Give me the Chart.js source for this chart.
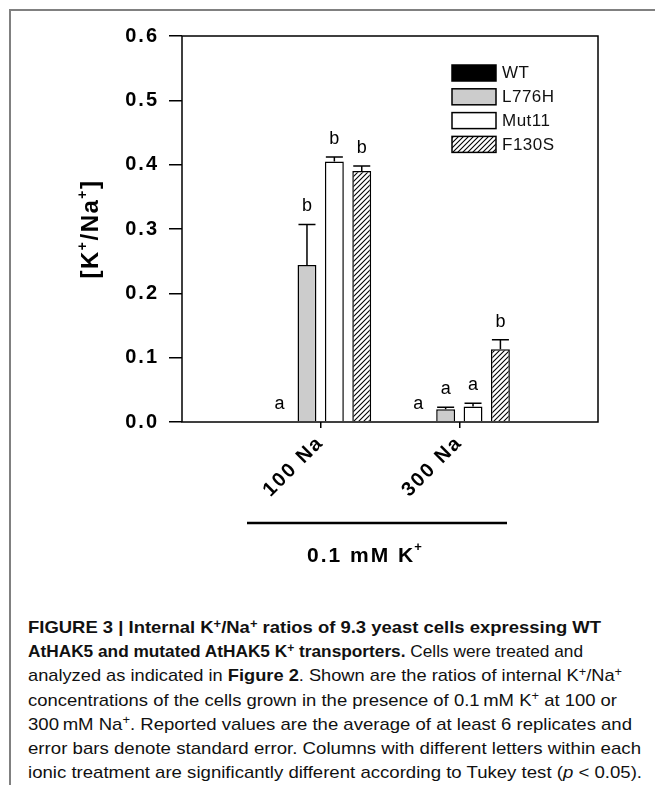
<!DOCTYPE html>
<html><head><meta charset="utf-8">
<script src="https://cdn.jsdelivr.net/npm/chart.js@4"></script>
<style>
body{margin:0;background:#fff;width:655px;height:785px;overflow:hidden;position:relative;font-family:'Liberation Sans',Arial,sans-serif}
#wrap{position:absolute;left:0;top:0;width:655px;height:600px}
#frameL{position:absolute;left:9px;top:9px;width:2px;height:776px;background:#808080}
#frameT{position:absolute;left:9px;top:9px;width:646px;height:2px;background:#808080}
#cap{position:absolute;left:28px;top:600px;font-family:'Liberation Sans Narrow','Liberation Sans',sans-serif;font-size:17px;color:#111}
.ln{position:absolute;left:0;white-space:nowrap;transform-origin:0 0;line-height:20px}
sup{font-size:70%;vertical-align:baseline;position:relative;top:-0.45em}
</style>
</head><body>
<div id="frameL"></div><div id="frameT"></div>
<div id="wrap"><canvas id="c" width="655" height="600"></canvas></div>
<div id="cap">
<div class="ln" data-w="573"><b>FIGURE 3 | Internal K<sup>+</sup>/Na<sup>+</sup> ratios of 9.3 yeast cells expressing WT</b></div>
<div class="ln" data-w="555"><b>AtHAK5 and mutated AtHAK5 K<sup>+</sup> transporters.</b> Cells were treated and</div>
<div class="ln" data-w="594">analyzed as indicated in <b>Figure 2</b>. Shown are the ratios of internal K<sup>+</sup>/Na<sup>+</sup></div>
<div class="ln" data-w="589">concentrations of the cells grown in the presence of 0.1&#8201;mM K<sup>+</sup> at 100 or</div>
<div class="ln" data-w="604">300&#8201;mM Na<sup>+</sup>. Reported values are the average of at least 6 replicates and</div>
<div class="ln" data-w="613">error bars denote standard error. Columns with different letters within each</div>
<div class="ln" data-w="614">ionic treatment are significantly different according to Tukey test (<i>p</i> &lt; 0.05).</div>
</div>
<script>
// ---- data ----
const categories = ['100 Na', '300 Na'];
const seriesNames = ['WT', 'L776H', 'Mut11', 'F130S'];
const wtValues    = [0.000, 0.000];
const l776hValues = [0.244, 0.020];
const mut11Values = [0.405, 0.024];
const f130sValues = [0.390, 0.113];
const wtErr    = [0.000, 0.000];
const l776hErr = [0.063, 0.003];
const mut11Err = [0.007, 0.005];
const f130sErr = [0.008, 0.015];
const wtLetters    = ['a', 'a'];
const l776hLetters = ['b', 'a'];
const mut11Letters = ['b', 'a'];
const f130sLetters = ['b', 'b'];
const yTickValues = [0, 0.1, 0.2, 0.3, 0.4, 0.5, 0.6];
const yTickLabels = ['0.0', '0.1', '0.2', '0.3', '0.4', '0.5', '0.6'];

// caption line fitting
document.querySelectorAll('#cap .ln').forEach((el, k) => {
  el.style.top = (18 + 24.2 * k) + 'px';
  const w = el.getBoundingClientRect().width;
  el.style.transform = 'scaleX(' + (parseFloat(el.dataset.w) / w) + ')';
});

const canvas = document.getElementById('c');
const ctx0 = canvas.getContext('2d');
const tile = document.createElement('canvas');
tile.width = tile.height = 5;
(function () {
  const g = tile.getContext('2d');
  g.fillStyle = '#fff'; g.fillRect(0, 0, 5, 5);
  g.strokeStyle = '#000'; g.lineWidth = 1.1;
  g.beginPath();
  g.moveTo(-1, 6); g.lineTo(6, -1);
  g.moveTo(-1, 1); g.lineTo(1, -1);
  g.moveTo(4, 6); g.lineTo(6, 4);
  g.stroke();
})();
const hatch = ctx0.createPattern(tile, 'repeat');

const valueSets = [wtValues, l776hValues, mut11Values, f130sValues];
const errSets = [wtErr, l776hErr, mut11Err, f130sErr];
const letterSets = [wtLetters, l776hLetters, mut11Letters, f130sLetters];
const fills = ['#000000', '#cccccc', '#ffffff', hatch];

const datasets = seriesNames.map((name, d) => ({
  label: name,
  data: categories.map((c, i) => ({ x: i + 1, y: valueSets[d][i] })),
  backgroundColor: fills[d],
  borderColor: '#000',
  borderWidth: 1.5,
  categoryPercentage: 0.79,
  barPercentage: 0.69
}));

const FONT = "'Liberation Sans', Arial, sans-serif";

const decor = {
  id: 'decor',
  beforeDraw(chart) { chart.ctx.letterSpacing = '2px'; },
  beforeDatasetsDraw(chart) { chart.ctx.letterSpacing = '0px'; },
  afterDatasetsDraw(chart) {
    const ctx = chart.ctx, ys = chart.scales.y;
    ctx.save();
    ctx.strokeStyle = '#000'; ctx.lineWidth = 1.5;
    ctx.fillStyle = '#000';
    ctx.font = '18px ' + FONT;
    ctx.textAlign = 'center'; ctx.textBaseline = 'middle';
    chart.data.datasets.forEach((ds, d) => {
      const meta = chart.getDatasetMeta(d);
      meta.data.forEach((bar, i) => {
        const v = ds.data[i].y, e = errSets[d][i];
        const y0 = ys.getPixelForValue(v), y1 = ys.getPixelForValue(v + e);
        const hw = bar.width * 0.45;
        if (e > 0) {
          ctx.beginPath();
          ctx.moveTo(bar.x, y0); ctx.lineTo(bar.x, y1);
          ctx.moveTo(bar.x - hw, y1); ctx.lineTo(bar.x + hw, y1);
          ctx.stroke();
        }
        ctx.fillText(letterSets[d][i], bar.x, y1 - 18);
      });
    });
    ctx.restore();
  },
  afterDraw(chart) {
    const ctx = chart.ctx, a = chart.chartArea;
    ctx.save();
    // plot frame
    ctx.strokeStyle = '#000'; ctx.lineWidth = 1.5;
    ctx.strokeRect(a.left, a.top, a.right - a.left, a.bottom - a.top);
    // legend
    ctx.font = '17px ' + FONT;
    ctx.letterSpacing = '0.5px';
    ctx.textAlign = 'left'; ctx.textBaseline = 'middle';
    chart.data.datasets.forEach((ds, k) => {
      const bx = 452, by = 65 + k * 23.8;
      ctx.fillStyle = ds.backgroundColor;
      ctx.fillRect(bx, by, 44, 16);
      ctx.strokeRect(bx, by, 44, 16);
      ctx.fillStyle = '#111';
      ctx.fillText(ds.label, bx + 50, by + 8.5);
    });
    // y title
    ctx.save();
    ctx.translate(90, 229);
    ctx.rotate(-Math.PI / 2);
    ctx.fillStyle = '#000';
    ctx.letterSpacing = '1.5px';
    const parts = [['[K', 24, 0], ['+', 14, -11], ['/Na', 24, 0], ['+', 14, -11], [']', 24, 0]];
    let tot = 0;
    parts.forEach(p => { ctx.font = 'bold ' + p[1] + 'px ' + FONT; tot += ctx.measureText(p[0]).width; });
    let x = -tot / 2;
    ctx.textAlign = 'left'; ctx.textBaseline = 'alphabetic';
    parts.forEach(p => { ctx.font = 'bold ' + p[1] + 'px ' + FONT; ctx.fillText(p[0], x, 8 + p[2]); x += ctx.measureText(p[0]).width; });
    ctx.restore();
    // bottom treatment bar and label
    ctx.letterSpacing = '0px';
    ctx.lineWidth = 2.5; ctx.strokeStyle = '#000';
    ctx.beginPath(); ctx.moveTo(247, 523); ctx.lineTo(507, 523); ctx.stroke();
    ctx.fillStyle = '#000';
    ctx.textAlign = 'left'; ctx.textBaseline = 'alphabetic';
    ctx.font = 'bold 21px ' + FONT;
    ctx.letterSpacing = '2px';
    const t = '0.1 mM K';
    ctx.fillText(t, 307, 562);
    const tw = ctx.measureText(t).width;
    ctx.font = 'bold 13px ' + FONT;
    ctx.letterSpacing = '0px';
    ctx.fillText('+', 307 + tw - 1, 551);
    ctx.restore();
  }
};

new Chart(canvas, {
  type: 'bar',
  data: { datasets },
  options: {
    responsive: false,
    devicePixelRatio: 1,
    animation: false,
    events: [],
    layout: { padding: { left: 0, top: 36, right: 57, bottom: 0 } },
    plugins: { legend: { display: false }, tooltip: { enabled: false } },
    scales: {
      x: {
        type: 'linear', min: 0, max: 3, offset: false,
        afterBuildTicks: s => { s.ticks = categories.map((c, i) => ({ value: i + 1 })); },
        afterFit: s => { s.height = 178; },
        ticks: {
          callback: v => categories[Math.round(v) - 1],
          minRotation: 45, maxRotation: 45, autoSkip: false,
          font: { family: FONT, size: 20, weight: 'bold' }, color: '#000', padding: 3
        },
        grid: { drawOnChartArea: false, offset: false, color: '#000', lineWidth: 1.5, tickLength: 6 },
        border: { display: false }
      },
      y: {
        min: 0, max: 0.6,
        afterBuildTicks: s => { s.ticks = yTickValues.map(v => ({ value: v })); },
        afterFit: s => { s.width = 182; },
        ticks: {
          callback: (v, i) => yTickLabels[i],
          font: { family: FONT, size: 20, weight: 'bold' }, color: '#000', padding: 10
        },
        grid: { drawOnChartArea: false, color: '#000', lineWidth: 1.5, tickLength: 13 },
        border: { display: false }
      }
    }
  },
  plugins: [decor]
});
</script>
</body></html>
